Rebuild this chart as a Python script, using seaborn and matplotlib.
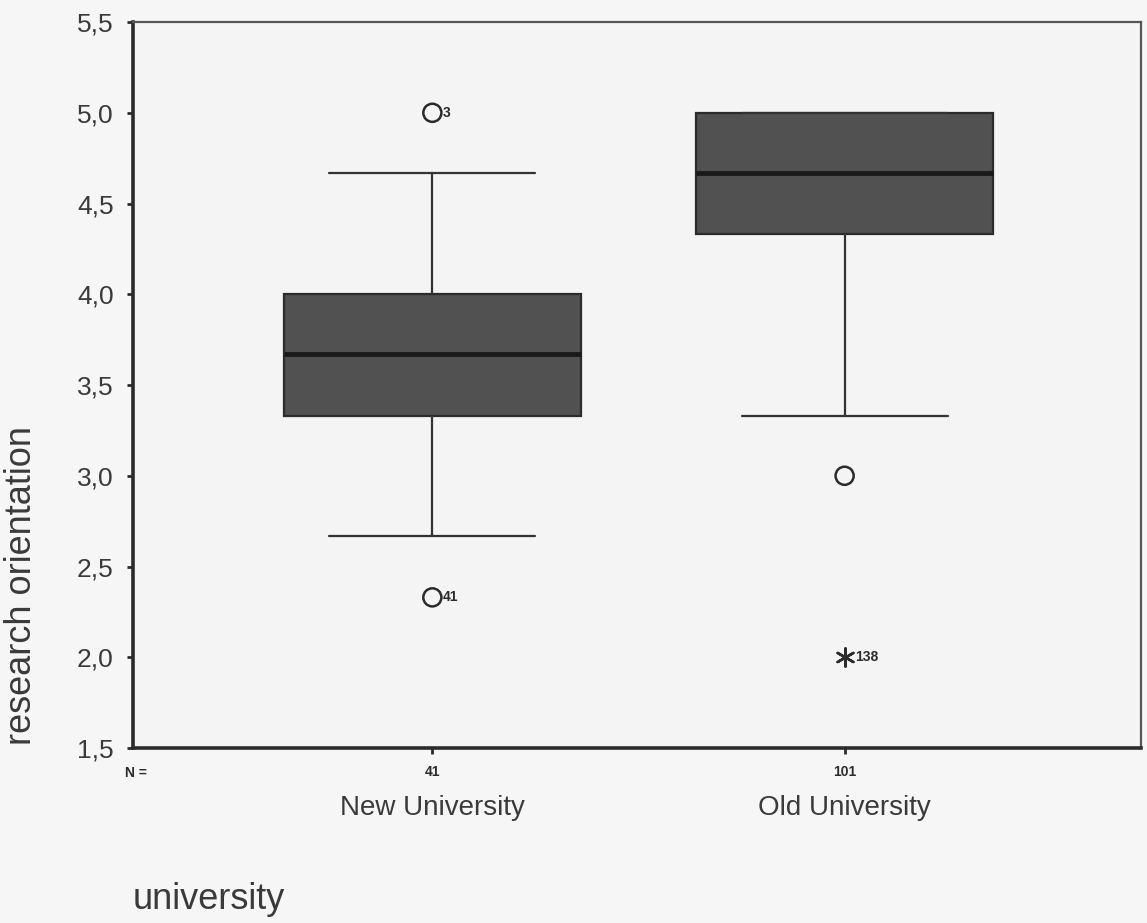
import numpy as np
import pandas as pd
import matplotlib
matplotlib.use("Agg")
import matplotlib.pyplot as plt
import matplotlib.transforms as mtransforms
import seaborn as sns

# ---- data ----
categories = ["New University", "Old University"]
n_counts = [41, 101]
# representative values reproducing the box statistics in the picture
new_values = [2.33, 2.67, 2.67, 3.33, 3.33, 3.67, 3.67, 3.67, 4.0, 4.0, 4.67, 4.67, 5.0]
old_values = [2.0, 3.0, 3.33, 4.33, 4.33, 4.67, 4.67, 4.67, 5.0, 5.0, 5.0, 5.0, 5.0]
# outliers (circles) and extremes (asterisks) with case labels
outlier_cat = ["New University", "New University", "Old University"]
outlier_val = [5.0, 2.33, 3.0]
outlier_lab = ["3", "41", ""]
extreme_cat = ["Old University"]
extreme_val = [2.0]
extreme_lab = ["138"]
yticks = [1.5, 2.0, 2.5, 3.0, 3.5, 4.0, 4.5, 5.0, 5.5]
ytick_labels = ["1,5", "2,0", "2,5", "3,0", "3,5", "4,0", "4,5", "5,0", "5,5"]

df = pd.DataFrame({
    "university": ["New University"] * len(new_values) + ["Old University"] * len(old_values),
    "research orientation": new_values + old_values,
})

sns.set_theme(style="white")
plt.rcParams["font.family"] = ["Liberation Sans", "DejaVu Sans"]

BG = "#f6f6f6"
fig = plt.figure(figsize=(11.47, 9.23), dpi=100, facecolor=BG)
ax = fig.add_axes([0.116, 0.1896, 0.8788, 0.7865])
ax.set_facecolor("#f4f4f4")

sns.boxplot(data=df, x="university", y="research orientation", order=categories,
            whis=(16, 84), width=0.72, showfliers=False,
            color="#515151", linecolor="#2b2b2b", linewidth=1.6,
            medianprops=dict(color="#1a1a1a", linewidth=3.5),
            whiskerprops=dict(color="#333333", linewidth=1.6),
            capprops=dict(color="#333333", linewidth=1.6),
            boxprops=dict(facecolor="#515151", edgecolor="#2b2b2b"),
            saturation=1, ax=ax)

# adjust cap widths to match the reference
for line in ax.lines:
    xd = np.asarray(line.get_xdata(), dtype=float)
    yd = np.asarray(line.get_ydata(), dtype=float)
    if len(xd) == 2 and np.isclose(yd[0], yd[1]) and not np.isclose(xd[0], xd[1]):
        c = xd.mean()
        w = abs(xd[1] - xd[0])
        if w < 0.6:
            line.set_xdata([c - 0.25, c + 0.25])

pos = {c: i for i, c in enumerate(categories)}
ox = [pos[c] for c in outlier_cat]
sns.scatterplot(x=ox, y=outlier_val, marker="o", s=170, facecolor="none",
                edgecolor="#2b2b2b", linewidth=1.8, ax=ax, zorder=5)
for x, y, t in zip(ox, outlier_val, outlier_lab):
    if t:
        ax.text(x + 0.025, y, t, fontsize=10, fontweight="bold", color="#2b2b2b",
                ha="left", va="center")
ex = [pos[c] for c in extreme_cat]
sns.scatterplot(x=ex, y=extreme_val, marker=(6, 2, 0), s=170, color="#2b2b2b",
                linewidth=1.8, ax=ax, zorder=5)
for x, y, t in zip(ex, extreme_val, extreme_lab):
    ax.text(x + 0.025, y, t, fontsize=10, fontweight="bold", color="#2b2b2b",
            ha="left", va="center")

ax.set_xlim(-0.726, 1.719)
ax.set_ylim(1.5, 5.5)
ax.set_yticks(yticks)
ax.set_yticklabels(ytick_labels, fontsize=19, color="#3a3a3a")
ax.set_xticks(range(len(categories)))
ax.set_xticklabels([str(n) for n in n_counts], fontsize=10, fontweight="bold", color="#2b2b2b")
ax.tick_params(axis="both", which="major", direction="out", length=4, width=2,
               color="#2b2b2b", left=True, bottom=True)
ax.tick_params(axis="y", pad=10)
ax.tick_params(axis="x", pad=8)
ax.set_xlabel("")
ax.set_ylabel("")

for side in ["left", "bottom"]:
    ax.spines[side].set_color("#2b2b2b")
    ax.spines[side].set_linewidth(2.6)
for side in ["top", "right"]:
    ax.spines[side].set_color("#555555")
    ax.spines[side].set_linewidth(1.6)

trans = mtransforms.blended_transform_factory(ax.transData, ax.transAxes)
for i, c in enumerate(categories):
    ax.text(i, -0.083, c, transform=trans, fontsize=20, color="#3a3a3a",
            ha="center", va="center")
ax.text(0.014, -0.034, "N =", transform=ax.transAxes, fontsize=10, fontweight="bold",
        color="#2b2b2b", ha="right", va="center")

fig.text(0.019, 0.366, "research orientation", rotation=90, fontsize=26,
         color="#3a3a3a", ha="center", va="center")
fig.text(0.116, 0.025, "university", fontsize=26, color="#3a3a3a",
         ha="left", va="center")

fig.savefig("out.png", dpi=100, facecolor=BG)
